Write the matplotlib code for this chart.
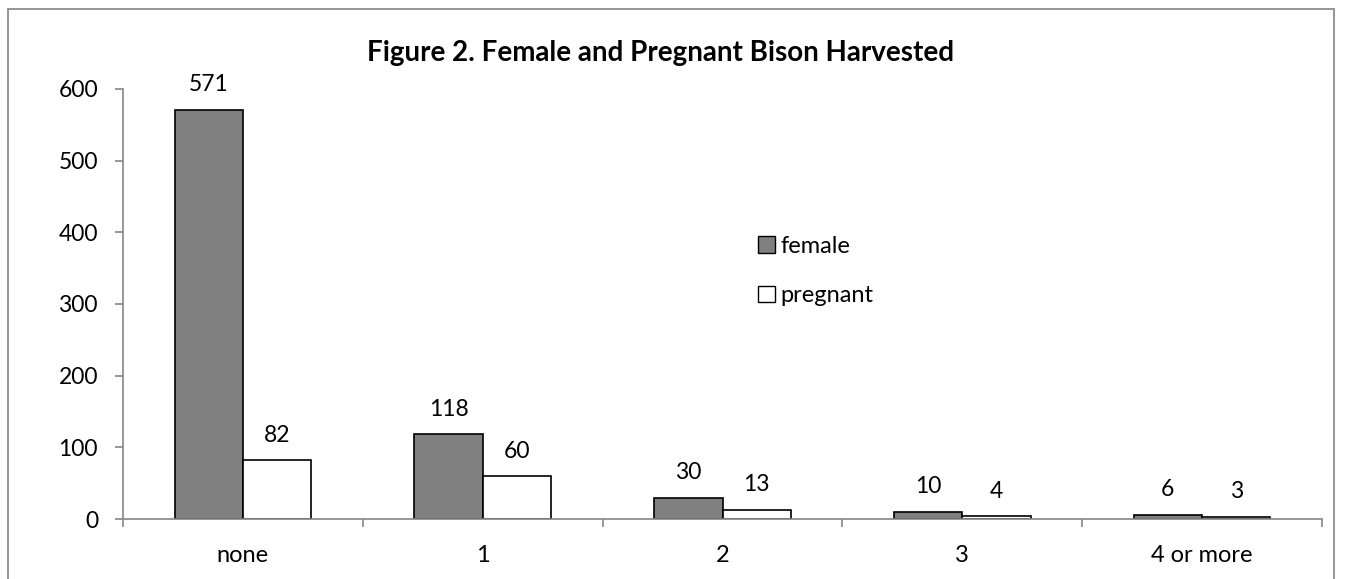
import matplotlib
matplotlib.use("Agg")
import matplotlib.pyplot as plt
from matplotlib.patches import Rectangle, Patch
import numpy as np

categories = ["none", "1", "2", "3", "4 or more"]
female = [571, 118, 30, 10, 6]
pregnant = [82, 60, 13, 4, 3]
series_names = ["female", "pregnant"]
yticks = [0, 100, 200, 300, 400, 500, 600]
title = "Figure 2. Female and Pregnant Bison Harvested"

plt.rcParams['font.family'] = ['Lato', 'DejaVu Sans']

W, H = 1345, 579
fig = plt.figure(figsize=(W / 100, H / 100), dpi=100)

# outer border
fig.patches.append(Rectangle((8 / W, -0.01), (1334 - 8) / W, 1 - 9 / H + 0.01,
                             transform=fig.transFigure, fill=False,
                             edgecolor="#8c8c8c", linewidth=1.3))

ax = fig.add_axes([123 / W, 1 - 519 / H, (1322 - 123) / W, (519 - 89) / H])

x = np.arange(len(categories))
bw = 0.285
b1 = ax.bar(x - bw / 2, female, bw, color="#808080", edgecolor="black", linewidth=1.2, label=series_names[0])
b2 = ax.bar(x + bw / 2, pregnant, bw, color="white", edgecolor="black", linewidth=1.2, label=series_names[1])

for bars, vals in ((b1, female), (b2, pregnant)):
    for r, v in zip(bars, vals):
        ax.annotate(str(v), (r.get_x() + r.get_width() / 2, v), xytext=(0, 18),
                    textcoords="offset points", ha="center", va="center", fontsize=16.5)

ax.set_xlim(-0.5, len(categories) - 0.5)
ax.set_ylim(0, 600)
ax.set_yticks(yticks)
ax.set_yticklabels([str(t) for t in yticks], fontsize=16.5)
ax.set_xticks(x)
ax.set_xticklabels(categories, fontsize=17)
ax.set_xticks(np.arange(len(categories) + 1) - 0.5, minor=True)
ax.tick_params(axis="x", which="major", length=0, pad=19)
ax.tick_params(axis="x", which="minor", length=6, color="#868686", width=1.2)
ax.tick_params(axis="y", length=6, color="#868686", width=1.2, pad=12)

for s in ("top", "right"):
    ax.spines[s].set_visible(False)
for s in ("left", "bottom"):
    ax.spines[s].set_color("#868686")
    ax.spines[s].set_linewidth(1.2)

fig.text(661 / W, 1 - 53 / H, title, ha="center", va="center", fontsize=20, fontweight="bold")

handles = [Patch(facecolor="#808080", edgecolor="black"), Patch(facecolor="white", edgecolor="black")]
ax.legend(handles, series_names, loc="upper left", bbox_to_anchor=(758 / W, 1 - 236 / H),
          bbox_transform=fig.transFigure, frameon=False, fontsize=17,
          handlelength=0.7, handleheight=0.7, handletextpad=0.25, labelspacing=1.2,
          borderpad=0, borderaxespad=0)

fig.savefig("out.png", dpi=100)
